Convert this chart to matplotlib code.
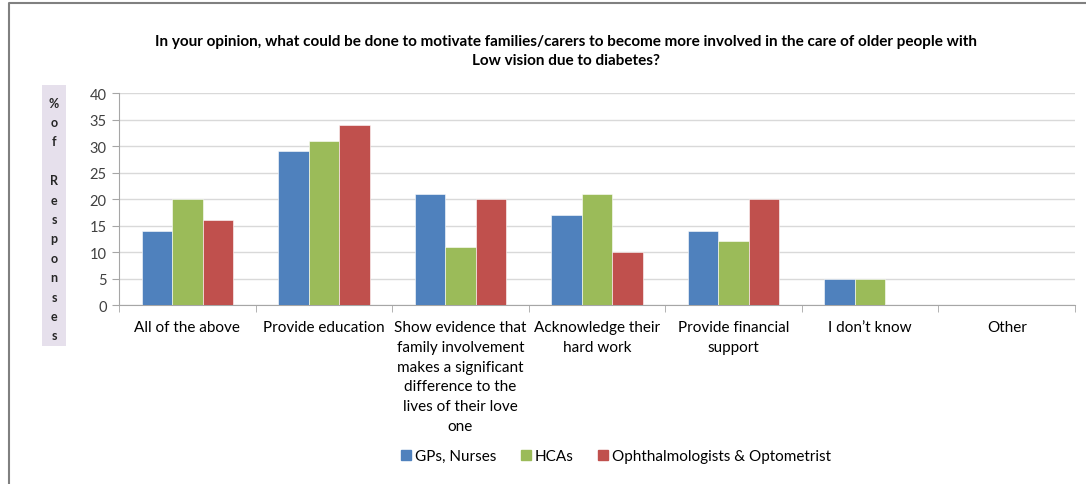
import numpy as np
import matplotlib.pyplot as plt
from matplotlib.patches import Rectangle
from matplotlib.lines import Line2D

categories = [
    'All of the above',
    'Provide education',
    'Show evidence that\nfamily involvement\nmakes a significant\ndifference to the\nlives of their love\none',
    'Acknowledge their\nhard work',
    'Provide financial\nsupport',
    'I don\u2019t know',
    'Other',
]
gps_nurses = [14, 29, 21, 17, 14, 5, 0]
hcas = [20, 31, 11, 21, 12, 5, 0]
ophth_optom = [16, 34, 20, 10, 20, 0, 0]

series_names = ['GPs, Nurses', 'HCAs', 'Ophthalmologists & Optometrist']
colors = ['#4F81BD', '#9BBB59', '#C0504D']

title = ('In your opinion, what could be done to motivate families/carers to become more involved in the care of older people with\n'
         'Low vision due to diabetes?')

plt.rcParams['font.family'] = ['Lato', 'DejaVu Sans']

fig = plt.figure(figsize=(10.86, 4.85), dpi=100)
ax = fig.add_axes([0.1096, 0.369, 0.8803, 0.437])

x = np.arange(len(categories))
w = 0.223
for i, (vals, c, name) in enumerate(zip([gps_nurses, hcas, ophth_optom], colors, series_names)):
    ax.bar(x + (i - 1) * w, vals, width=w, color=c, edgecolor='white', linewidth=0.4, label=name, zorder=3)

ax.set_xlim(-0.5, len(categories) - 0.5)
ax.set_ylim(0, 40)
ax.set_yticks(range(0, 41, 5))
ax.yaxis.grid(True, color='#D9D9D9', linewidth=1.0, zorder=0)
for s in ['top', 'right']:
    ax.spines[s].set_visible(False)
for s in ['left', 'bottom']:
    ax.spines[s].set_color('#A6A6A6')
ax.tick_params(axis='y', length=5, color='#A6A6A6', labelsize=10.5, labelcolor='#404040', pad=4)

# category labels centred, tick marks at the category boundaries
ax.set_xticks(x)
ax.set_xticklabels(categories, fontsize=11, va='top', linespacing=1.52)
ax.tick_params(axis='x', length=0, pad=11)
ax.set_xticks(np.arange(-0.5, len(categories)), minor=True)
ax.tick_params(axis='x', which='minor', length=5, color='#A6A6A6')

fig.text(0.521, 0.893, title, ha='center', va='center', fontsize=11, fontweight='bold',
         linespacing=1.45)

# stacked-letter axis title on a lavender panel
fig.patches.append(Rectangle((42 / 1086, 1 - 347 / 485), 24 / 1086, 261 / 485,
                             transform=fig.transFigure, facecolor='#E6E0EC', edgecolor='none'))
ylabel = '\n'.join(list('%of Responses'))
fig.text(54 / 1086, 1 - 220 / 485, ylabel, ha='center', va='center', fontsize=9,
         fontweight='bold', linespacing=1.74, color='#262626')

handles = [Line2D([], [], marker='s', linestyle='none', markersize=7, color=c) for c in colors]
fig.legend(handles, series_names, loc='center', bbox_to_anchor=(0.566, 1 - 457 / 485), ncol=3,
           frameon=False, fontsize=11, handletextpad=0.1, columnspacing=1.4, handlelength=1.0)

# outer chart frame (top and left edges)
fig.lines.append(Line2D([9 / 1086, 9 / 1086, 1], [0, 1 - 4 / 485, 1 - 4 / 485],
                        transform=fig.transFigure, color='#808080', linewidth=1.5))

fig.savefig('out.png', dpi=100)
